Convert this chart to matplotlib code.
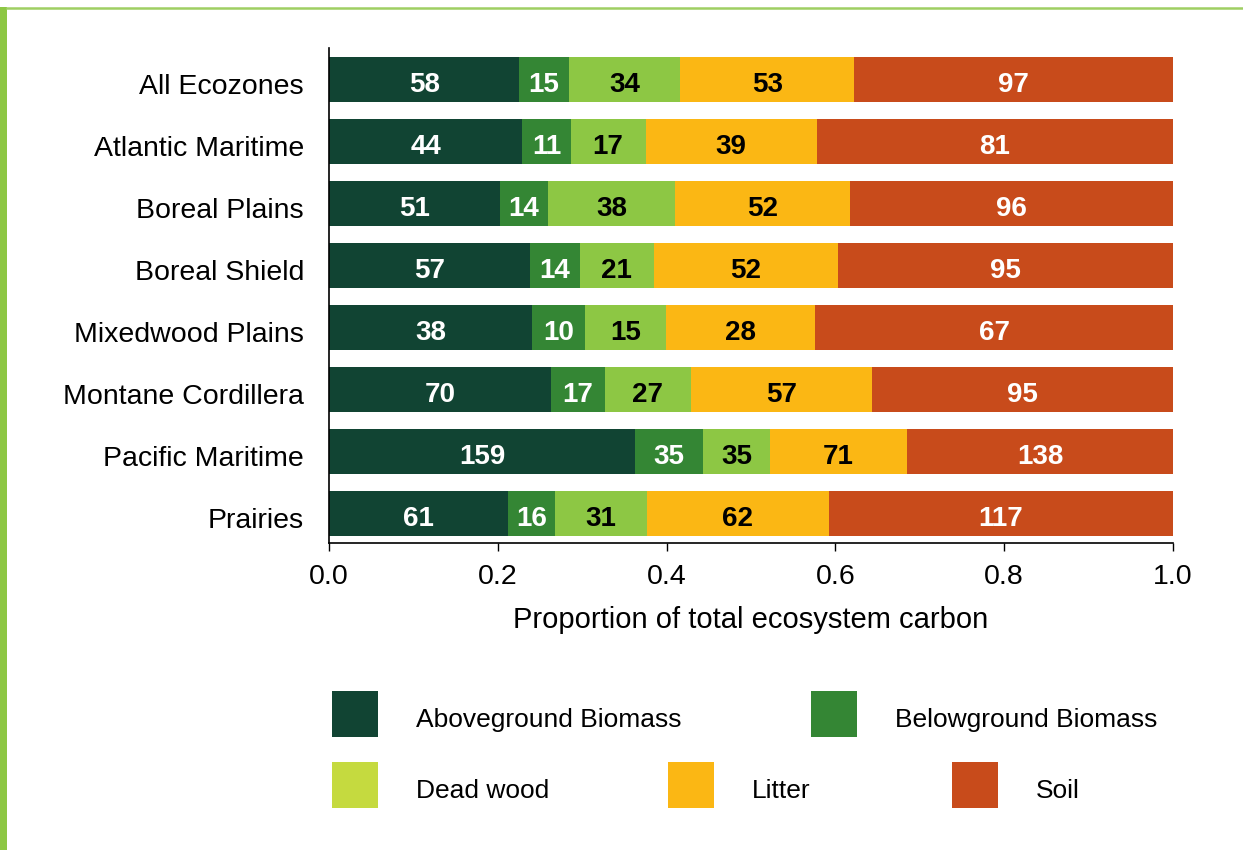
import matplotlib
matplotlib.use("Agg")
import matplotlib.pyplot as plt
from matplotlib.patches import Rectangle
from matplotlib.lines import Line2D
import matplotlib.transforms as mtransforms
import numpy as np

plt.rcParams['font.family'] = ['Liberation Sans', 'DejaVu Sans']

ecozones = ["All Ecozones", "Atlantic Maritime", "Boreal Plains", "Boreal Shield",
            "Mixedwood Plains", "Montane Cordillera", "Pacific Maritime", "Prairies"]
aboveground = [58, 44, 51, 57, 38, 70, 159, 61]
belowground = [15, 11, 14, 14, 10, 17, 35, 16]
dead_wood = [34, 17, 38, 21, 15, 27, 35, 31]
litter = [53, 39, 52, 52, 28, 57, 71, 62]
soil = [97, 81, 96, 95, 67, 95, 138, 117]

series_names = ["Aboveground Biomass", "Belowground Biomass", "Dead wood", "Litter", "Soil"]
series = [aboveground, belowground, dead_wood, litter, soil]
bar_colors = ["#114433", "#348634", "#8dc744", "#fbb714", "#c84b1b"]
legend_colors = ["#114433", "#348634", "#c5da3f", "#fbb714", "#c84b1b"]
text_colors = ["white", "white", "black", "black", "white"]

W, H = 1243, 850
fig = plt.figure(figsize=(W / 100, H / 100), dpi=100)
fig.patch.set_facecolor("white")

# decorative frame: left stripe and top line
fig.add_artist(Rectangle((0, 0), 7 / W, 1 - 7 / H, transform=fig.transFigure,
                         color="#8dc744", lw=0))
fig.add_artist(Line2D([7 / W, 1], [1 - 7.5 / H, 1 - 7.5 / H], transform=fig.transFigure,
                      color="#9fcf62", lw=1.8))

ax = fig.add_axes([329 / W, 1 - 543 / H, (1173 - 329) / W, (543 - 48) / H])

data = np.array(series, dtype=float)
totals = data.sum(axis=0)
props = data / totals
n = len(ecozones)
ypos = np.arange(n)[::-1]

num_offset = mtransforms.ScaledTranslation(0, -2.5 / 100, fig.dpi_scale_trans)
left = np.zeros(n)
for k in range(len(series)):
    ax.barh(ypos, props[k], left=left, height=0.726, color=bar_colors[k], lw=0)
    for i in range(n):
        ax.text(left[i] + props[k][i] / 2, ypos[i], f"{int(data[k][i])}",
                ha="center", va="center_baseline", fontsize=20, fontweight="bold",
                color=text_colors[k], transform=ax.transData + num_offset)
    left += props[k]

ax.set_xlim(0, 1)
ax.set_ylim(-0.476, n - 1 + 0.508)
ax.set_yticks(ypos)
ax.set_yticklabels(ecozones, fontsize=20.5, va="center_baseline")
ax.set_xticks([0, 0.2, 0.4, 0.6, 0.8, 1.0])
ax.set_xticklabels(["0.0", "0.2", "0.4", "0.6", "0.8", "1.0"], fontsize=20.5)
ax.tick_params(axis="y", length=0, pad=18)
ax.tick_params(axis="x", length=6, width=1, direction="out", pad=9)
lab_offset = mtransforms.ScaledTranslation(0, -4.5 / 100, fig.dpi_scale_trans)
for lab in ax.get_yticklabels():
    lab.set_transform(lab.get_transform() + lab_offset)
ax.spines["top"].set_visible(False)
ax.spines["right"].set_visible(False)
ax.spines["left"].set_linewidth(1.2)
ax.spines["bottom"].set_linewidth(1.2)
ax.set_xlabel("Proportion of total ecosystem carbon", fontsize=21, labelpad=12)

# legend laid out as in reference
legend_items = [
    (0, 332, 691, 416),
    (1, 811, 691, 895),
    (2, 332, 762, 416),
    (3, 668, 762, 752),
    (4, 952, 762, 1036),
]
for k, px, py, tx in legend_items:
    fig.add_artist(Rectangle((px / W, 1 - (py + 46) / H), 46 / W, 46 / H,
                             transform=fig.transFigure, color=legend_colors[k], lw=0))
    fig.text(tx / W, 1 - (py + 27) / H, series_names[k], fontsize=19,
             ha="left", va="center_baseline")

fig.savefig("out.png", dpi=100, facecolor="white")
